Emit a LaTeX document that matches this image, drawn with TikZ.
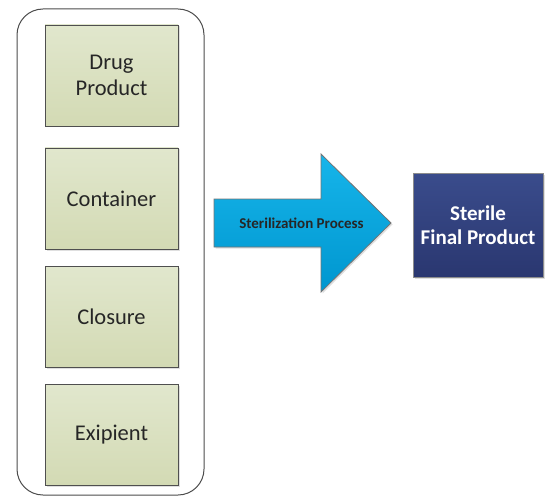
\documentclass[tikz,border=0pt]{standalone}
\usepackage{fontspec}
\setmainfont{Carlito}
\usetikzlibrary{shadows}
\definecolor{boxtop}{HTML}{E1E7CD}
\definecolor{boxbot}{HTML}{D3DAB4}
\definecolor{boxline}{HTML}{4F4F4F}
\definecolor{arrtop}{HTML}{16B5EA}
\definecolor{arrbot}{HTML}{0096CF}
\definecolor{navytop}{HTML}{3A4C8C}
\definecolor{navybot}{HTML}{2A3770}
\begin{document}
\begin{tikzpicture}[x=1pt,y=-1pt,
  component/.style={draw=boxline,line width=0.9pt,top color=boxtop,bottom color=boxbot,
    minimum width=133pt,minimum height=101pt,inner sep=0pt,align=center,
    font=\fontsize{22.5}{25.5}\selectfont,text=black!85,
    drop shadow={shadow xshift=1.5pt,shadow yshift=-1.5pt,opacity=0.25}},
  result/.style={draw=black!45,line width=0.6pt,top color=navytop,bottom color=navybot,
    minimum width=130pt,minimum height=104pt,inner sep=0pt,align=center,
    font=\bfseries\fontsize{21}{24}\selectfont,text=white,
    drop shadow={shadow xshift=1.5pt,shadow yshift=-1.5pt,opacity=0.25}}]
\useasboundingbox (0,0) rectangle (545,497);
% enclosing frame
\draw[black!70,line width=1pt,rounded corners=26pt] (17,9) rectangle (204,495);
% ingredient boxes
\node[component] (drug) at (111.5,75.5) {Drug\\Product};
\node[component] (cont) at (111.5,198.5) {Container};
\node[component] (clos) at (111.5,316.5) {Closure};
\node[component] (exip) at (111.5,434.5) {Exipient};
% process arrow
\coordinate (ps) at (214,223);
\coordinate (pt) at (391,223);
\path[draw=black!55,line width=0.8pt,top color=arrtop,bottom color=arrbot,
  drop shadow={shadow xshift=1.5pt,shadow yshift=-1.5pt,opacity=0.25}]
  (214,199) -- (321,199) -- (321,154) -- (pt) -- (321,292) -- (321,247) -- (214,247) -- cycle;
\node[font=\bfseries\fontsize{15}{18}\selectfont,text=black!85] (proc) at (301.5,223) {Sterilization Process};
% final product
\node[result] (final) at (478,225) {Sterile\\Final Product};
\end{tikzpicture}
\end{document}
